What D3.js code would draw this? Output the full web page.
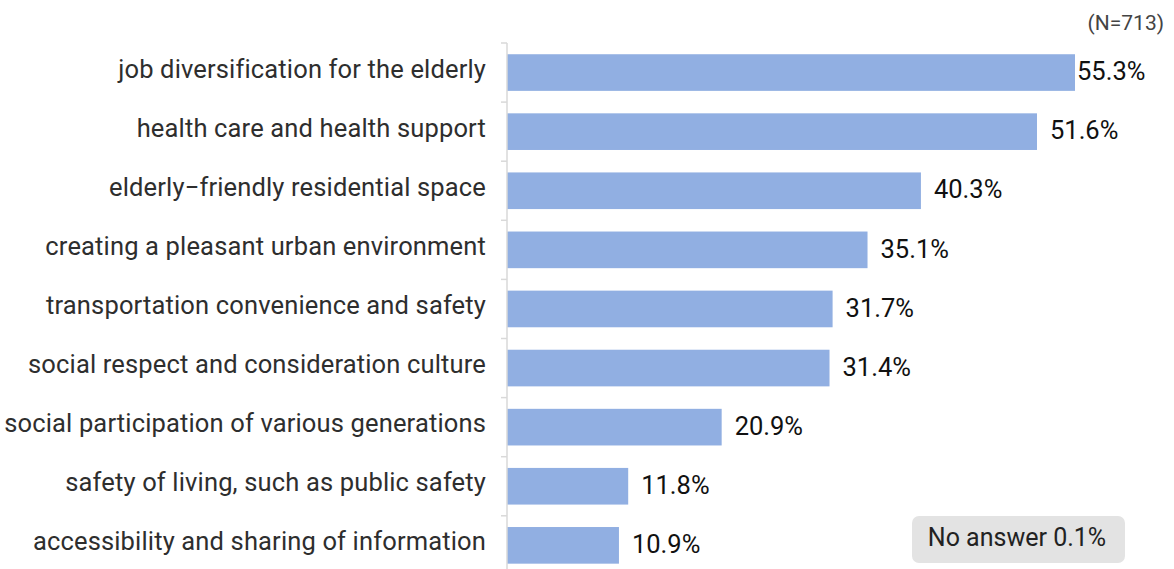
<!DOCTYPE html>
<html>
<head>
<meta charset="utf-8">
<script src="https://cdn.jsdelivr.net/npm/d3@7"></script>
<style>
  body { margin: 0; background: #fff; }
  text { font-family: Roboto, "Noto Sans", sans-serif; }
</style>
</head>
<body>
<div id="chart"></div>
<script>
// data
var categories = [
  "job diversification for the elderly",
  "health care and health support",
  "elderly\u2212friendly residential space",
  "creating a pleasant urban environment",
  "transportation convenience and safety",
  "social respect and consideration culture",
  "social participation of various generations",
  "safety of living, such as public safety",
  "accessibility and sharing of information"
];
var values = [55.3, 51.6, 40.3, 35.1, 31.7, 31.4, 20.9, 11.8, 10.9];
var sampleNote = "(N=713)";
var noAnswerNote = "No answer 0.1%";

var W = 1174, H = 569;
var margin = {top: 43, left: 507};

var svg = d3.select("#chart")
  .append("svg")
    .attr("width", W)
    .attr("height", H);

var x = d3.scaleLinear()
  .domain([0, 55.3])
  .range([margin.left, 1075]);

var y = d3.scaleBand()
  .domain(categories)
  .range([margin.top, margin.top + 59.1 * categories.length])
  .paddingInner(0.38)
  .paddingOuter(0.19);

// bars
svg.selectAll("rect.bar")
  .data(values)
  .enter()
  .append("rect")
    .attr("class", "bar")
    .attr("x", x(0))
    .attr("y", function(d, i) { return y(categories[i]); })
    .attr("width", function(d) { return x(d) - x(0); })
    .attr("height", y.bandwidth())
    .attr("fill", "#91afe2");

// axis line with small ticks on the left
var axis = svg.append("g")
  .attr("transform", "translate(" + margin.left + ",0)");
axis.append("line")
  .attr("x1", 0).attr("x2", 0)
  .attr("y1", margin.top).attr("y2", H)
  .attr("stroke", "#d9d9d9")
  .attr("stroke-width", 1.5);
var step = y.step();
axis.selectAll("line.tick")
  .data(d3.range(categories.length + 1))
  .enter()
  .append("line")
    .attr("class", "tick")
    .attr("x1", -6).attr("x2", 0)
    .attr("y1", function(i) { return margin.top + i * step; })
    .attr("y2", function(i) { return margin.top + i * step; })
    .attr("stroke", "#d9d9d9")
    .attr("stroke-width", 1.5);

// category labels
svg.selectAll("text.cat")
  .data(categories)
  .enter()
  .append("text")
    .attr("class", "cat")
    .attr("x", 486)
    .attr("y", function(d) { return y(d) + y.bandwidth() / 2; })
    .attr("dy", "0.2em")
    .attr("text-anchor", "end")
    .style("font-size", "25.5px")
    .style("letter-spacing", "0.15px")
    .style("fill", "#2e2e2e")
    .text(function(d) { return d; });

// value labels
svg.selectAll("text.val")
  .data(values)
  .enter()
  .append("text")
    .attr("class", "val")
    .attr("x", function(d) { return Math.min(x(d) + 13, x(55.3) + 2); })
    .attr("y", function(d, i) { return y(categories[i]) + y.bandwidth() / 2; })
    .attr("dy", "0.3em")
    .style("font-size", "25.5px")
    .style("fill", "#111")
    .text(function(d) { return d.toFixed(1) + "%"; });

// sample size note
svg.append("text")
  .attr("x", 1164)
  .attr("y", 30)
  .attr("text-anchor", "end")
  .style("font-size", "21px")
  .style("fill", "#444")
  .text(sampleNote);

// no answer box
var box = svg.append("g");
box.append("rect")
  .attr("x", 912).attr("y", 516)
  .attr("width", 213).attr("height", 47)
  .attr("rx", 7)
  .attr("fill", "#e3e3e3");
box.append("text")
  .attr("x", 1017)
  .attr("y", 546)
  .attr("text-anchor", "middle")
  .style("font-size", "25px")
  .style("fill", "#222")
  .text(noAnswerNote);
</script>
</body>
</html>
